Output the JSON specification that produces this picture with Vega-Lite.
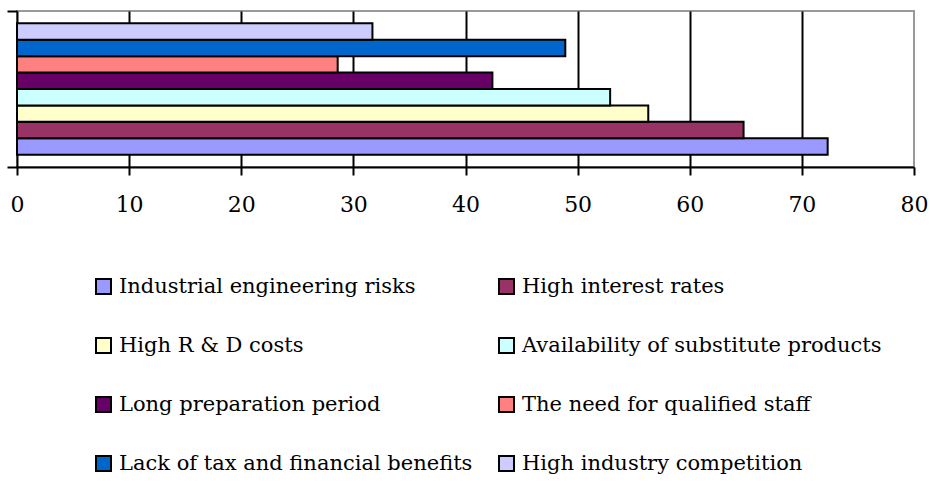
{
  "$schema": "https://vega.github.io/schema/vega-lite/v6.json",
  "width": 897,
  "height": 156,
  "autosize": {"type": "none"},
  "padding": {"left": 17, "top": 11, "right": 16, "bottom": 335},
  "background": "white",
  "config": {
    "view": {"stroke": "#999999", "strokeWidth": 2},
    "font": "DejaVu Serif"
  },
  "data": {
    "values": [
      {"group": "all", "factor": "Industrial engineering risks", "value": 72.3},
      {"group": "all", "factor": "High interest rates", "value": 64.8},
      {"group": "all", "factor": "High R & D costs", "value": 56.3},
      {"group": "all", "factor": "Availability of substitute products", "value": 52.9},
      {"group": "all", "factor": "Long preparation period", "value": 42.4},
      {"group": "all", "factor": "The need for qualified staff", "value": 28.6},
      {"group": "all", "factor": "Lack of tax and financial benefits", "value": 48.9},
      {"group": "all", "factor": "High industry competition", "value": 31.7}
    ]
  },
  "mark": {"type": "bar", "stroke": "black", "strokeWidth": 2},
  "encoding": {
    "y": {
      "field": "group",
      "type": "nominal",
      "scale": {"paddingInner": 0, "paddingOuter": 0},
      "axis": {
        "title": null,
        "labels": false,
        "tickBand": "extent",
        "tickSize": 10,
        "tickColor": "black",
        "tickWidth": 2,
        "domainColor": "black",
        "domainWidth": 2,
        "grid": false
      }
    },
    "yOffset": {
      "field": "factor",
      "type": "nominal",
      "sort": [
        "High industry competition",
        "Lack of tax and financial benefits",
        "The need for qualified staff",
        "Long preparation period",
        "Availability of substitute products",
        "High R & D costs",
        "High interest rates",
        "Industrial engineering risks"
      ],
      "scale": {"paddingInner": 0, "paddingOuter": 0.75}
    },
    "x": {
      "field": "value",
      "type": "quantitative",
      "scale": {"domain": [0, 80], "nice": false, "zero": true},
      "axis": {
        "title": null,
        "values": [0, 10, 20, 30, 40, 50, 60, 70, 80],
        "grid": true,
        "gridColor": {
          "condition": {"test": "datum.value == 80 || datum.value == 0", "value": "transparent"},
          "value": "black"
        },
        "gridWidth": 2,
        "tickSize": 8,
        "tickColor": "black",
        "tickWidth": 2,
        "domainColor": "black",
        "domainWidth": 2,
        "labelFontSize": 22,
        "labelFont": "DejaVu Serif",
        "labelColor": "black",
        "labelPadding": 19,
        "labelFlush": false
      }
    },
    "color": {
      "field": "factor",
      "type": "nominal",
      "scale": {
        "domain": [
          "Industrial engineering risks",
          "High interest rates",
          "High R & D costs",
          "Availability of substitute products",
          "Long preparation period",
          "The need for qualified staff",
          "Lack of tax and financial benefits",
          "High industry competition"
        ],
        "range": ["#9999FF", "#993366", "#FFFFCC", "#CCFFFF", "#660066", "#FF8080", "#0066CC", "#CCCCFF"]
      },
      "legend": {
        "title": null,
        "orient": "none",
        "legendX": 76,
        "legendY": 265,
        "direction": "horizontal",
        "columns": 2,
        "columnPadding": 22,
        "rowPadding": 36,
        "padding": 0,
        "symbolType": "square",
        "symbolSize": 225,
        "symbolStrokeColor": "black",
        "symbolStrokeWidth": 2,
        "symbolOpacity": 1,
        "labelFontSize": 21,
        "labelFont": "DejaVu Serif",
        "labelColor": "black",
        "labelLimit": 600,
        "labelOffset": 5
      }
    }
  }
}
